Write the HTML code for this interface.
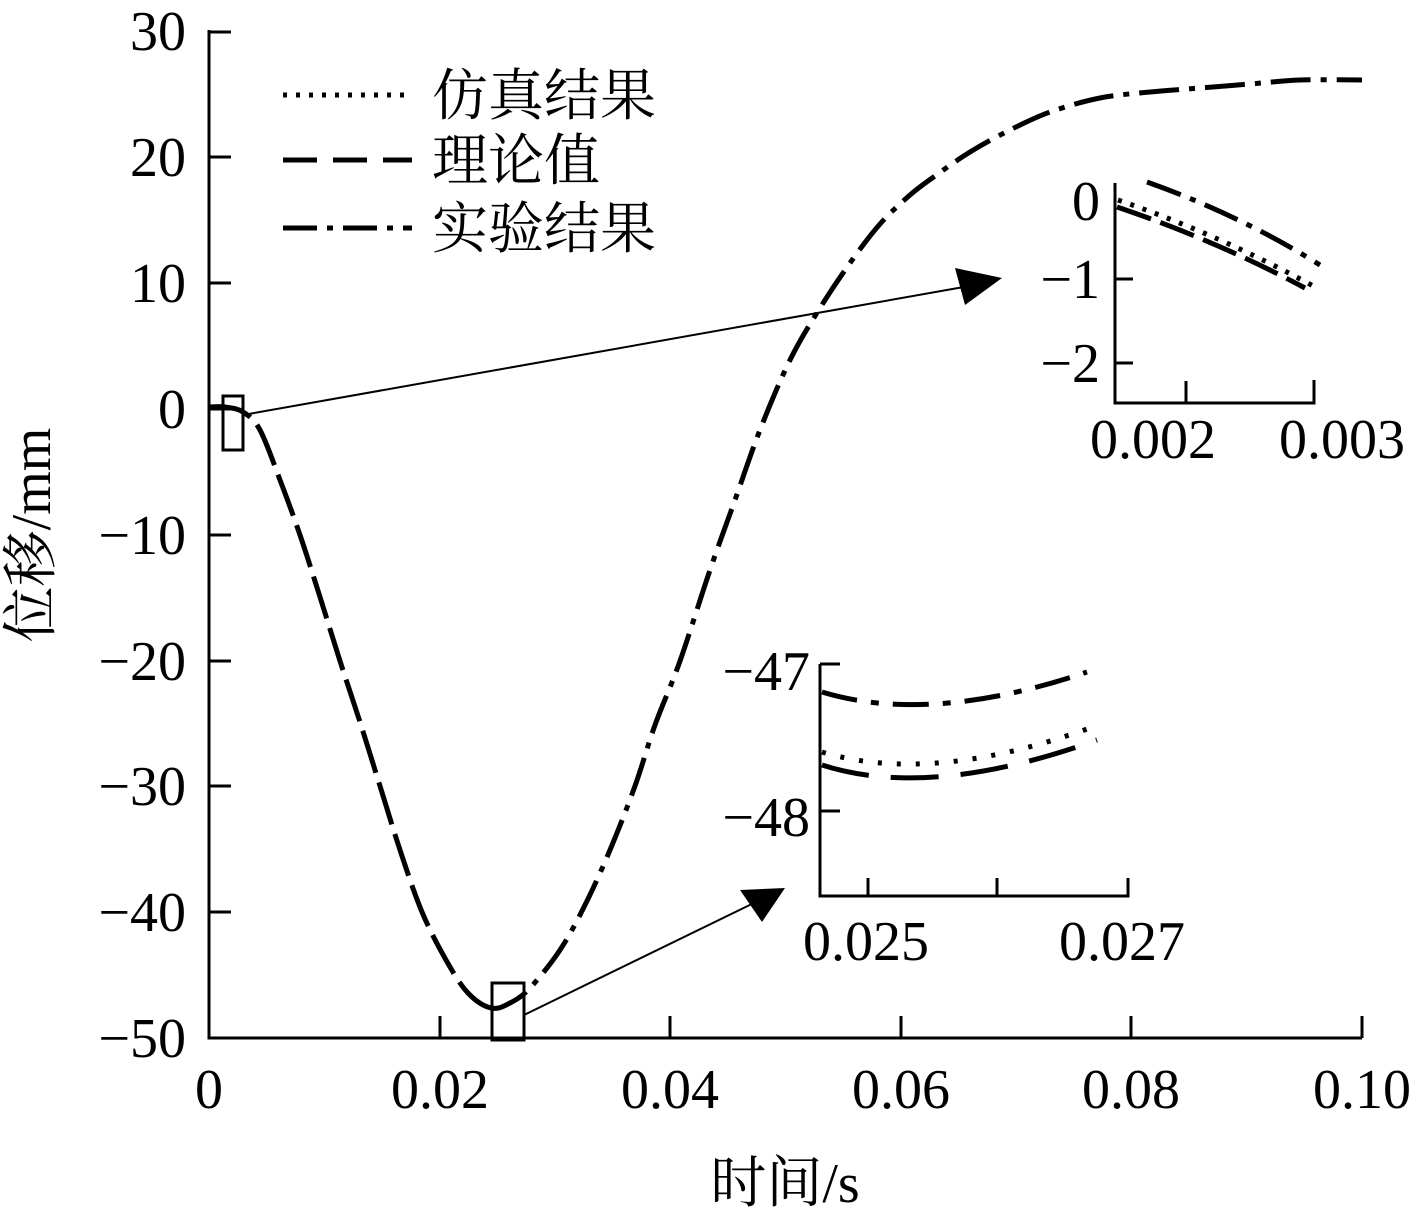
<!DOCTYPE html>
<html><head><meta charset="utf-8"><style>
body{margin:0;background:#fff}
svg text{font-family:"Liberation Serif","Noto Serif CJK SC","Noto Sans CJK SC",serif;fill:#000}
</style></head><body>
<svg id="s" width="1418" height="1220" viewBox="0 0 1418 1220" xmlns="http://www.w3.org/2000/svg">
<g stroke="#000" stroke-width="3" fill="none">
<path d="M209,30 V1038 H1362"/>
<path d="M209,157 h22 M209,283 h22 M209,409 h22 M209,535 h22 M209,661 h22 M209,786 h22 M209,912 h22 M209,32 h22"/>
<path d="M440,1038 v-22 M670,1038 v-22 M901,1038 v-22 M1131,1038 v-22 M1362,1038 v-22"/>
</g>
<g font-size="56" text-anchor="end">
<text x="186" y="50">30</text><text x="186" y="176">20</text><text x="186" y="302">10</text>
<text x="186" y="428">0</text><text x="186" y="554">−10</text><text x="186" y="680">−20</text>
<text x="186" y="805">−30</text><text x="186" y="931">−40</text><text x="186" y="1057">−50</text>
</g>
<g font-size="56" text-anchor="middle">
<text x="209" y="1108">0</text><text x="440" y="1108">0.02</text><text x="670" y="1108">0.04</text>
<text x="901" y="1108">0.06</text><text x="1131" y="1108">0.08</text><text x="1362" y="1108">0.10</text>
<text x="785" y="1202">时间/s</text>
</g>
<text font-size="56" text-anchor="middle" transform="translate(50,535) rotate(-90)">位移/mm</text>
<g stroke="#000" stroke-width="5" fill="none">
<path d="M283,95 H412" stroke-dasharray="4,9"/>
<path d="M283,160 H412" stroke-dasharray="34,16"/>
<path d="M283,228 H412" stroke-dasharray="34,10,6,10"/>
</g>
<g font-size="56"><text x="432" y="115">仿真结果</text><text x="432" y="180">理论值</text><text x="432" y="248">实验结果</text></g>
<g id="curves" stroke="#000" stroke-width="5" fill="none"></g>
<g stroke="#000" stroke-width="3" fill="none">
<rect x="223" y="396" width="20" height="54"/>
<rect x="492" y="983" width="32" height="57"/>
<path d="M243,415 L975,285" stroke-width="2"/>
<path d="M524,1015 L760,900" stroke-width="2"/>
</g>
<path d="M1002,278 L955,268 L965,305 Z" fill="#000"/>
<path d="M785,888 L740,890 L762,922 Z" fill="#000"/>
<g stroke="#000" stroke-width="3" fill="none">
<path d="M1115,183 V403 H1314 V380 M1186,403 v-22 M1115,279 h18 M1115,363 h18"/>
</g>
<g stroke="#000" stroke-width="5" fill="none">
<path d="M1147,182 Q1240,215 1320,265" stroke-dasharray="36,10,6,10"/>
<path d="M1118,200 Q1220,235 1315,287" stroke-dasharray="4,9"/>
<path d="M1117,207 Q1215,240 1305,288" stroke-dasharray="36,10"/>
</g>
<g font-size="56" text-anchor="end"><text x="1100" y="220">0</text><text x="1100" y="298">−1</text><text x="1100" y="382">−2</text></g>
<g font-size="56" text-anchor="middle"><text x="1153" y="458">0.002</text><text x="1342" y="458">0.003</text></g>
<g stroke="#000" stroke-width="3" fill="none">
<path d="M820,664 H840 M820,664 V896 H1128 V878 M868,896 v-18 M997,896 v-18 M820,811 h20"/>
</g>
<g stroke="#000" stroke-width="5" fill="none">
<path d="M822,692 Q930,725 1087,672" stroke-dasharray="36,14,8,14"/>
<path d="M822,752 Q930,785 1090,728" stroke-dasharray="4,15"/>
<path d="M822,765 Q930,800 1097,740" stroke-dasharray="48,22"/>
</g>
<g font-size="56" text-anchor="end"><text x="810" y="690">−47</text><text x="810" y="836">−48</text></g>
<g font-size="56" text-anchor="middle"><text x="866" y="960">0.025</text><text x="1122" y="960">0.027</text></g>
</svg>
<script>
var P=[[209,407],[225,407],[243,412],[260,430],[280,480],[300,535],[320,597],[340,661],[360,722],[380,786],[400,850],[422,912],[446,960],[468,993],[491,1008],[510,1003],[530,988],[560,950],[585,905],[610,850],[635,786],[655,725],[680,661],[710,570],[735,500],[760,430],[790,360],[820,308],[850,263],[880,224],[910,195],[935,176],[970,152],[1010,130],[1050,112],[1100,98],[1150,92],[1200,88],[1250,84],[1300,80],[1362,80]];
function seg(a,b){var d="M"+P[a][0]+","+P[a][1];for(var i=a;i<b;i++){var p0=P[Math.max(i-1,0)],p1=P[i],p2=P[i+1],p3=P[Math.min(i+2,P.length-1)];
var c1=[p1[0]+(p2[0]-p0[0])/6,p1[1]+(p2[1]-p0[1])/6],c2=[p2[0]-(p3[0]-p1[0])/6,p2[1]-(p3[1]-p1[1])/6];
d+=" C"+c1+" "+c2+" "+p2;}return d;}
var g=document.getElementById("curves");
function add(d,da){var e=document.createElementNS("http://www.w3.org/2000/svg","path");e.setAttribute("d",d);e.setAttribute("stroke-dasharray",da);g.appendChild(e);}
add(seg(0,14),"44,10");
add(seg(14,P.length-1),"40,10,6,10");
</script>
</body></html>
